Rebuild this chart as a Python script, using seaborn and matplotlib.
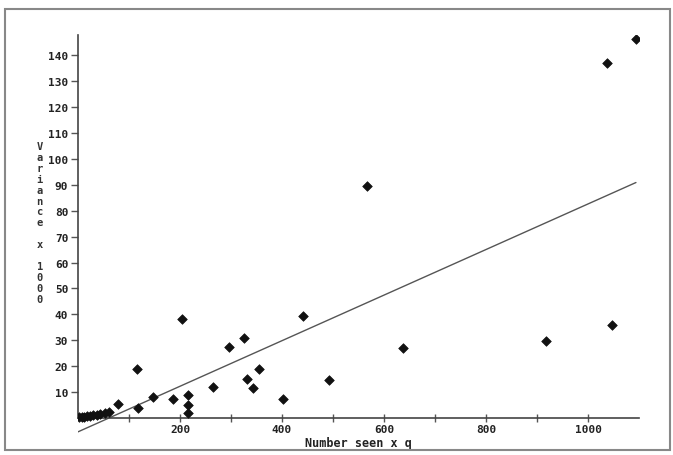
import matplotlib
matplotlib.use("Agg")
import matplotlib.pyplot as plt
from matplotlib.patches import Rectangle
import seaborn as sns
import pandas as pd
import numpy as np

# data
number_seen = [2, 7, 12, 18, 24, 30, 37, 44, 52, 61,
               78, 115, 117, 148, 187, 204, 216, 216, 216, 264,
               297, 326, 331, 344, 355, 401, 441, 493, 567, 637,
               918, 1037, 1047, 1094]
variance = [0.2, 0.3, 0.5, 0.6, 0.8, 1.0, 1.3, 1.6, 2.0, 2.5,
            5.5, 18.9, 3.9, 8.0, 7.2, 38.2, 8.9, 5.1, 1.9, 11.8,
            27.4, 30.8, 14.9, 11.6, 19.0, 7.5, 39.5, 14.7, 89.6, 27.0,
            29.7, 137.1, 35.9, 146.3]

# fitted regression line shown on the chart
fit_intercept = -5.35
fit_slope = 0.088

x_ticks = list(range(100, 1100, 100))
x_ticklabels = [str(t) if t % 200 == 0 else "" for t in x_ticks]
y_ticks = list(range(10, 150, 10))

df = pd.DataFrame({"x": number_seen, "y": variance})
x_fit = np.array([0, max(number_seen)])
fit_df = pd.DataFrame({"x": x_fit, "y": fit_intercept + fit_slope * x_fit})

sns.set_theme(style="white")
plt.rcParams["font.family"] = ["DejaVu Sans Mono", "DejaVu Sans"]

fig = plt.figure(figsize=(6.73, 4.56), dpi=100)
ax = fig.add_axes([0.1159, 0.0471, 0.8336, 0.8746])

sns.lineplot(data=fit_df, x="x", y="y", ax=ax, color="#555555", lw=1.0)
sns.scatterplot(data=df, x="x", y="y", ax=ax, marker="D", s=24,
                color="#111111", edgecolor="#111111", linewidth=0.5, zorder=3)

ax.set_xlim(0, 1100)
ax.set_ylim(-6, 148)

for side in ["top", "right"]:
    ax.spines[side].set_visible(False)
ax.spines["bottom"].set_position(("data", 0))
ax.spines["left"].set_bounds(0, 148)
for side in ["bottom", "left"]:
    ax.spines[side].set_color("#444444")
    ax.spines[side].set_linewidth(1.2)

ax.set_xticks(x_ticks)
ax.set_xticklabels(x_ticklabels)
ax.set_yticks(y_ticks)
ax.set_yticklabels([str(t) for t in y_ticks])
ax.tick_params(axis="x", direction="inout", length=6, width=1, color="#555555",
               labelsize=8, pad=1, labelcolor="#222222", bottom=True)
ax.tick_params(axis="y", direction="out", length=5, width=1, color="#555555",
               labelsize=8, pad=2, labelcolor="#222222", left=True)
for lbl in ax.get_xticklabels() + ax.get_yticklabels():
    lbl.set_fontweight("bold")

ax.set_xlabel("Number seen x q", fontsize=8.5, fontweight="bold", labelpad=2,
              color="#222222")
ax.set_ylabel("")

# stacked vertical y label as on the original printout
ylab = "Variance x 1000"
fig.text(0.059, 0.51, "\n".join(ylab), ha="center", va="center",
         fontsize=7.5, linespacing=1.12, fontweight="bold", color="#333333")

# scanned page frame
fig.patches.append(Rectangle((0.008, 0.01), 0.987, 0.967, transform=fig.transFigure,
                             fill=False, edgecolor="#888888", lw=1.5))

fig.savefig("out.png", dpi=100)
